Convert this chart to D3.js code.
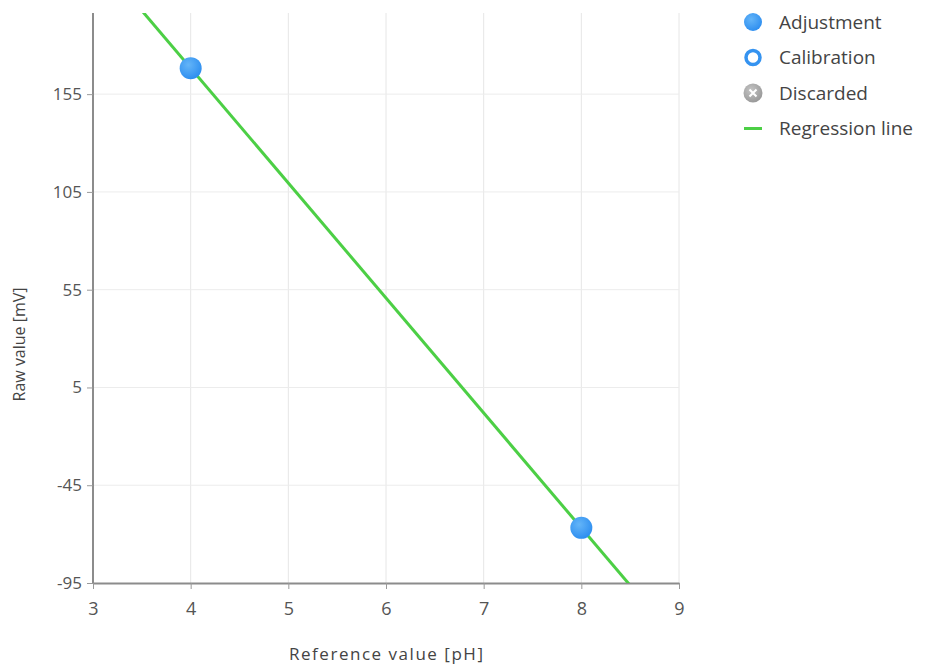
<!DOCTYPE html>
<html>
<head>
<meta charset="utf-8">
<script src="https://cdn.jsdelivr.net/npm/d3@7"></script>
<style>
  html, body { margin: 0; padding: 0; background: #fff; }
  svg { display: block; font-family: "Open Sans", "Noto Sans", sans-serif; }
</style>
</head>
<body>
<svg id="chart" width="926" height="666"></svg>
<script>
// ---- data ----
const xTicks = [3, 4, 5, 6, 7, 8, 9];
const yTicks = [-95, -45, 5, 55, 105, 155];
const adjustmentX = [4, 8];
const adjustmentY = [168.3, -66.8];
const regressionX = [3, 9];
const regressionY = [227.1, -125.6];
const legendLabels = ["Adjustment", "Calibration", "Discarded", "Regression line"];
const xDomain = [3, 9];
const yDomain = [-95, 196.5];

// ---- layout ----
const svg = d3.select("#chart");
const margin = { left: 93, right: 247, top: 13, bottom: 83 };
const W = 926, H = 666;
const x = d3.scaleLinear().domain(xDomain).range([margin.left, W - margin.right]);
const y = d3.scaleLinear().domain(yDomain).range([H - margin.bottom, margin.top]);

const defs = svg.append("defs");
const grad = defs.append("radialGradient").attr("id", "blueGrad")
  .attr("cx", "40%").attr("cy", "35%").attr("r", "65%");
grad.append("stop").attr("offset", "0%").attr("stop-color", "#64b5f8");
grad.append("stop").attr("offset", "100%").attr("stop-color", "#2f8ff0");
const grayGrad = defs.append("radialGradient").attr("id", "grayGrad")
  .attr("cx", "40%").attr("cy", "35%").attr("r", "65%");
grayGrad.append("stop").attr("offset", "0%").attr("stop-color", "#c4c4c4");
grayGrad.append("stop").attr("offset", "100%").attr("stop-color", "#9a9a9a");
defs.append("clipPath").attr("id", "plotClip").append("rect")
  .attr("x", x(xDomain[0])).attr("y", y(yDomain[1]))
  .attr("width", x(xDomain[1]) - x(xDomain[0]))
  .attr("height", y(yDomain[0]) - y(yDomain[1]));

// grid
const grid = svg.append("g");
grid.selectAll("line.v").data(xTicks.slice(1)).join("line")
  .attr("x1", d => x(d)).attr("x2", d => x(d))
  .attr("y1", y(yDomain[1])).attr("y2", y(yDomain[0]))
  .attr("stroke", "#e6e6e6").attr("stroke-width", 1);
grid.selectAll("line.h").data(yTicks.slice(1)).join("line")
  .attr("y1", d => y(d)).attr("y2", d => y(d))
  .attr("x1", x(xDomain[0])).attr("x2", x(xDomain[1]))
  .attr("stroke", "#ececec").attr("stroke-width", 1);

// axes
const fmt = d => String(d);
const xAxis = svg.append("g").attr("transform", `translate(0,${y(yDomain[0])})`)
  .call(d3.axisBottom(x).tickValues(xTicks).tickFormat(fmt).tickSize(6).tickPadding(13).tickSizeOuter(0));
const yAxis = svg.append("g").attr("transform", `translate(${x(xDomain[0])},0)`)
  .call(d3.axisLeft(y).tickValues(yTicks).tickFormat(fmt).tickSize(6).tickPadding(5).tickSizeOuter(0));
[xAxis, yAxis].forEach(a => {
  a.select(".domain").attr("stroke", "#8c8c8c").attr("stroke-width", 2);
  a.selectAll(".tick line").attr("stroke", "#9a9a9a");
  a.selectAll(".tick text").attr("fill", "#555").attr("font-family", "'Open Sans', sans-serif").attr("font-size", 17);
});
xAxis.selectAll(".tick text").attr("font-size", 18);
// extend y axis domain line to top
yAxis.select(".domain").attr("d", `M0,${y(yDomain[1])}V${y(yDomain[0])}`);

// axis titles
svg.append("text").attr("x", x(6)).attr("y", 660).attr("text-anchor", "middle")
  .attr("fill", "#444").attr("font-size", 17).attr("textLength", 194).text("Reference value [pH]");
svg.append("text").attr("transform", `translate(25,${y(27)}) rotate(-90)`)
  .attr("text-anchor", "middle").attr("fill", "#444").attr("font-size", 16)
  .text("Raw value [mV]");

// regression line
const line = d3.line().x((d, i) => x(regressionX[i])).y(d => y(d));
svg.append("path").datum(regressionY).attr("clip-path", "url(#plotClip)")
  .attr("d", line).attr("fill", "none").attr("stroke", "#4ccf45").attr("stroke-width", 3);

// points
svg.append("g").selectAll("circle").data(adjustmentX).join("circle")
  .attr("cx", d => x(d)).attr("cy", (d, i) => y(adjustmentY[i]))
  .attr("r", 11).attr("fill", "url(#blueGrad)");

// legend
const lg = svg.append("g").attr("transform", "translate(753,22)");
const rowH = 35.5;
legendLabels.forEach((lab, i) => {
  const g = lg.append("g").attr("transform", `translate(0,${i * rowH})`);
  if (i === 0) {
    g.append("circle").attr("r", 9).attr("fill", "url(#blueGrad)");
  } else if (i === 1) {
    g.append("circle").attr("r", 7).attr("fill", "#fff").attr("stroke", "#3593f0").attr("stroke-width", 3.5);
  } else if (i === 2) {
    g.append("circle").attr("r", 9.5).attr("fill", "url(#grayGrad)");
    g.append("path").attr("d", "M-3.5,-3.5L3.5,3.5M3.5,-3.5L-3.5,3.5")
      .attr("stroke", "#fff").attr("stroke-width", 2);
  } else {
    g.append("line").attr("x1", -9).attr("x2", 9).attr("stroke", "#4ccf45").attr("stroke-width", 3);
  }
  g.append("text").attr("x", 26).attr("y", 0).attr("dy", "0.35em")
    .attr("fill", "#444").attr("font-size", 19).text(lab);
});
</script>
</body>
</html>
